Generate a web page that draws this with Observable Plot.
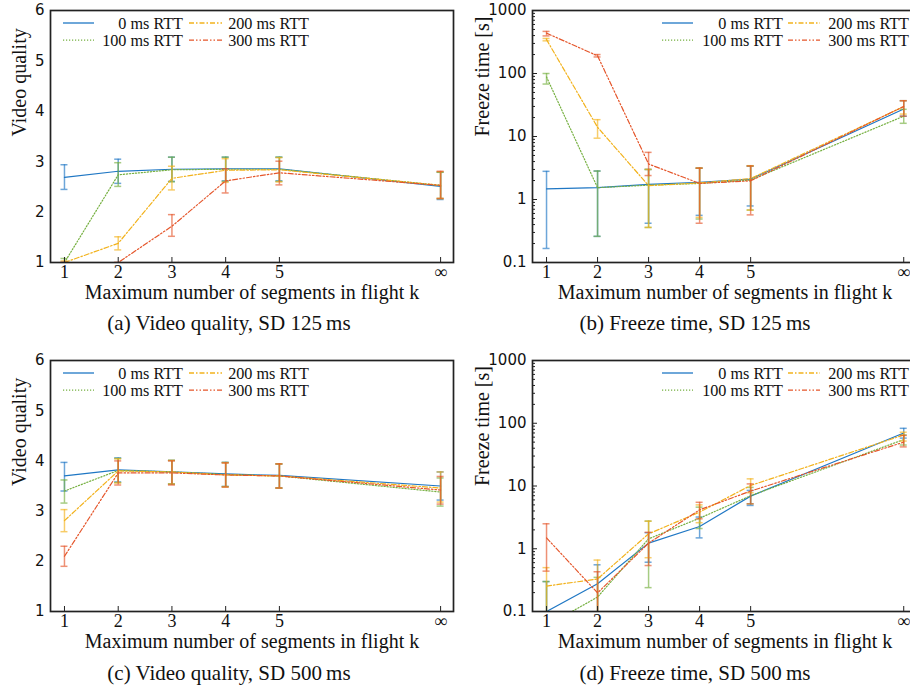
<!DOCTYPE html>
<html><head><meta charset="utf-8">
<script src="https://cdn.jsdelivr.net/npm/d3@7"></script>
<script src="https://cdn.jsdelivr.net/npm/@observablehq/plot@0.6"></script>
<style>
html,body{margin:0;padding:0;background:#fff;overflow:hidden}
#root{position:relative;width:910px;height:693px;overflow:hidden;background:#fff}
.panel{position:absolute}
#overlay{position:absolute;left:0;top:0;pointer-events:none}
</style></head><body><div id="root"></div>
<script>
// ---------- data ----------
const ks = [1, 2, 3, 4, 5, 8];           // 8 stands for "∞"
const kLabels = ["1", "2", "3", "4", "5", "∞"];
const series = ["0 ms RTT", "100 ms RTT", "200 ms RTT", "300 ms RTT"];
const colors = ["#1f77c4", "#76b041", "#f2b21c", "#e5562b"];
const dashes = [null, "1.2,1.8", "5,2,1.5,2", "5,2,1.5,2,1.5,2"];

// (a) Video quality, SD 125 ms
const q125Mean = [[2.69,2.81,2.85,2.86,2.86,2.51],[1.0,2.74,2.84,2.85,2.85,2.53],[1.0,1.38,2.67,2.83,2.84,2.53],[1.0,1.0,1.72,2.62,2.78,2.53]];
const q125Lo   = [[2.45,2.57,2.61,2.62,2.62,2.25],[0.95,2.51,2.60,2.61,2.61,2.27],[0.97,1.25,2.44,2.59,2.60,2.27],[1.0,1.0,1.52,2.38,2.54,2.27]];
const q125Hi   = [[2.94,3.05,3.09,3.09,3.09,2.79],[1.08,2.98,3.09,3.09,3.09,2.79],[1.03,1.51,2.91,3.06,3.08,2.80],[1.0,1.0,1.95,2.86,3.01,2.81]];
// (b) Freeze time, SD 125 ms
const f125Mean = [[1.47,1.54,1.74,1.88,2.11,27.3],[88,1.54,1.69,1.80,2.04,21],[345,14,1.66,1.83,2.15,29.8],[437,191,3.66,1.80,1.98,30]];
const f125Lo   = [[0.167,0.26,0.42,0.56,0.79,21],[68,0.26,0.36,0.49,0.68,16.2],[330,9.4,0.36,0.52,0.68,22.7],[395,183,2.4,0.42,0.57,21]];
const f125Hi   = [[2.8,2.83,3.0,3.15,3.4,37],[100,2.83,3.0,3.15,3.4,27],[360,18.5,3.0,3.15,3.44,37],[466,200,5.6,3.15,3.4,37]];
// (c) Video quality, SD 500 ms
const q500Mean = [[3.70,3.82,3.78,3.74,3.71,3.50],[3.40,3.81,3.78,3.73,3.70,3.38],[2.81,3.80,3.78,3.72,3.70,3.46],[2.10,3.76,3.76,3.72,3.70,3.42]];
const q500Lo   = [[3.40,3.58,3.54,3.49,3.46,3.22],[3.16,3.57,3.54,3.49,3.46,3.10],[2.59,3.56,3.54,3.48,3.46,3.18],[1.90,3.52,3.52,3.48,3.46,3.14]];
const q500Hi   = [[3.97,4.06,4.01,3.97,3.94,3.78],[3.62,4.05,4.01,3.97,3.94,3.66],[3.03,4.04,4.01,3.96,3.94,3.78],[2.30,4.00,4.00,3.96,3.94,3.69]];
// (d) Freeze time, SD 500 ms
const f500Mean = [[0.10,0.276,1.23,2.26,6.9,70],[0.059,0.17,1.44,3.07,7.0,55],[0.254,0.33,1.73,3.83,10.2,65],[1.49,0.198,1.23,4.17,8.3,50]];
const f500Lo   = [[0.02,0.05,0.61,1.49,4.9,58],[0.02,0.05,0.24,2.1,5.2,45],[0.05,0.05,0.72,2.6,7.8,52],[0.44,0.05,0.54,3.0,5.2,42]];
const f500Hi   = [[0.30,0.555,1.8,3.2,8.5,83],[0.3,0.35,2.76,4.6,9.5,65],[0.5,0.66,2.75,5.0,13,72],[2.5,0.43,1.83,5.5,10.8,64]];

const qualityTicks = [1, 2, 3, 4, 5, 6];
const freezeTicks = [0.1, 1, 10, 100, 1000];
const freezeMinor = [];
for (const dec of [0.1, 1, 10, 100]) for (let m = 2; m <= 9; m++) freezeMinor.push(+(dec * m).toPrecision(3));

const xTitle = "Maximum number of segments in flight k";
const captions = ["(a) Video quality, SD 125\u2009ms", "(b) Freeze time, SD 125\u2009ms", "(c) Video quality, SD 500\u2009ms", "(d) Freeze time, SD 500\u2009ms"];

const SERIF = "'Liberation Serif', 'Times New Roman', Times, serif";
const SANS = "'DejaVu Sans', sans-serif";

function rowsOf(mean, lo, hi) {
  const rows = [];
  series.forEach((s, i) => ks.forEach((k, j) => rows.push({s, k, v: mean[i][j], lo: lo[i][j], hi: hi[i][j]})));
  return rows;
}

function panel(o) {
  const W = o.width - o.mL - o.mR, H = o.height - o.mT - o.mB;
  const rows = rowsOf(o.mean, o.lo, o.hi);
  const marks = [];
  series.forEach((s, i) => {
    const d = rows.filter(r => r.s === s);
    marks.push(
      Plot.ruleX(d, {x: "k", y1: "lo", y2: "hi", stroke: colors[i], strokeWidth: 1.5, strokeOpacity: 0.65, clip: true}),
      Plot.ruleY(d, {y: "lo", x1: "k", x2: "k", insetLeft: -3.5, insetRight: -3.5, stroke: colors[i], strokeWidth: 1.5, strokeOpacity: 0.65, clip: true}),
      Plot.ruleY(d, {y: "hi", x1: "k", x2: "k", insetLeft: -3.5, insetRight: -3.5, stroke: colors[i], strokeWidth: 1.5, strokeOpacity: 0.65, clip: true}),
      Plot.line(d, {x: "k", y: "v", stroke: colors[i], strokeWidth: 1.2, strokeDasharray: dashes[i], clip: true})
    );
  });
  marks.push(
    Plot.tickX(ks, {x: d => d, insetTop: H - 5, stroke: "#222", strokeWidth: 1}),
    Plot.axisX(ks, {tickFormat: d => kLabels[ks.indexOf(d)], tickSize: 0, tickPadding: 3, fontSize: 18, fontFamily: SERIF, fill: "#111", label: null}),
    Plot.axisY(o.yTicks, {tickFormat: d => String(d), tickSize: 0, tickPadding: 6, fontSize: 15, fontFamily: SANS, fill: "#111", label: null}),
    Plot.text([xTitle], {text: d => d, frameAnchor: "bottom", dy: 30, lineAnchor: "middle", fontSize: 20, fontFamily: SERIF, fill: "#111"}),
    Plot.text([o.yLabel], {text: d => d, frameAnchor: "left", dx: o.yLabelDx, rotate: -90, lineAnchor: "middle", fontSize: 20, fontFamily: SERIF, fill: "#111"})
  );
  if (o.yType === "log") {
    marks.push(
      Plot.tickY(o.yTicks, {y: d => d, insetRight: W - 5, stroke: "#222", strokeWidth: 1}),
      Plot.tickY(freezeMinor, {y: d => d, insetRight: W - 3, stroke: "#222", strokeWidth: 1})
    );
  }
  marks.push(Plot.frame({stroke: "#222", strokeWidth: 1.7}));
  const svg = Plot.plot({
    width: o.width, height: o.height,
    marginLeft: o.mL, marginRight: o.mR, marginTop: o.mT, marginBottom: o.mB,
    x: {domain: o.xDomain},
    y: {type: o.yType, domain: o.yDomain},
    style: {background: "transparent", overflow: "visible", maxWidth: "none", fontFamily: SERIF},
    marks
  });
  const div = document.createElement("div");
  div.className = "panel";
  div.style.left = o.left + "px";
  div.style.top = o.top + "px";
  div.appendChild(svg);
  document.getElementById("root").appendChild(div);
}

const A = {width: 455, height: 300, mL: 50, mR: 2, mT: 10, xDomain: [0.74, 8.24], yLabelDx: -31};
const B = {width: 462, height: 300, mL: 77, mR: 0, mT: 10, xDomain: [0.725, 8.27], yLabelDx: -50};

panel({...A, left: 0, top: 0, mB: 38, mean: q125Mean, lo: q125Lo, hi: q125Hi, yType: "linear", yDomain: [1, 6], yTicks: qualityTicks, yLabel: "Video quality"});
panel({...B, left: 455, top: 0, mB: 38, mean: f125Mean, lo: f125Lo, hi: f125Hi, yType: "log", yDomain: [0.1, 1000], yTicks: freezeTicks, yLabel: "Freeze time [s]"});
panel({...A, left: 0, top: 350, mB: 39, mean: q500Mean, lo: q500Lo, hi: q500Hi, yType: "linear", yDomain: [1, 6], yTicks: qualityTicks, yLabel: "Video quality"});
panel({...B, left: 455, top: 350, mB: 39, mean: f500Mean, lo: f500Lo, hi: f500Hi, yType: "log", yDomain: [0.1, 1000], yTicks: freezeTicks, yLabel: "Freeze time [s]"});

// ---------- legends & captions overlay ----------
const ov = d3.select("#root").append("svg").attr("id", "overlay").attr("width", 910).attr("height", 693)
  .style("font-family", SERIF);
const legendPos = [
  {cols: [[63, 94, 183], [189, 222, 309]], y: 23},
  {cols: [[662, 693, 783], [788, 820, 909]], y: 23},
  {cols: [[63, 94, 183], [189, 222, 309]], y: 373},
  {cols: [[662, 693, 783], [788, 820, 909]], y: 373}
];
legendPos.forEach(L => {
  series.forEach((s, i) => {
    const c = L.cols[Math.floor(i / 2)];
    const y = L.y + (i % 2) * 17.2;
    ov.append("line").attr("x1", c[0]).attr("x2", c[1]).attr("y1", y).attr("y2", y)
      .attr("stroke", colors[i]).attr("stroke-width", 1.3).attr("stroke-dasharray", dashes[i]);
    ov.append("text").attr("x", c[2]).attr("y", y + 5.5).attr("text-anchor", "end")
      .style("font-family", SERIF).attr("font-size", 16.2).attr("fill", "#111").text(s);
  });
});
const capPos = [[229, 330], [695, 330], [229, 680], [695, 680]];
captions.forEach((t, i) => {
  ov.append("text").attr("x", capPos[i][0]).attr("y", capPos[i][1]).attr("text-anchor", "middle")
    .style("font-family", SERIF).attr("font-size", 21).attr("fill", "#111").text(t);
});
</script></body></html>
